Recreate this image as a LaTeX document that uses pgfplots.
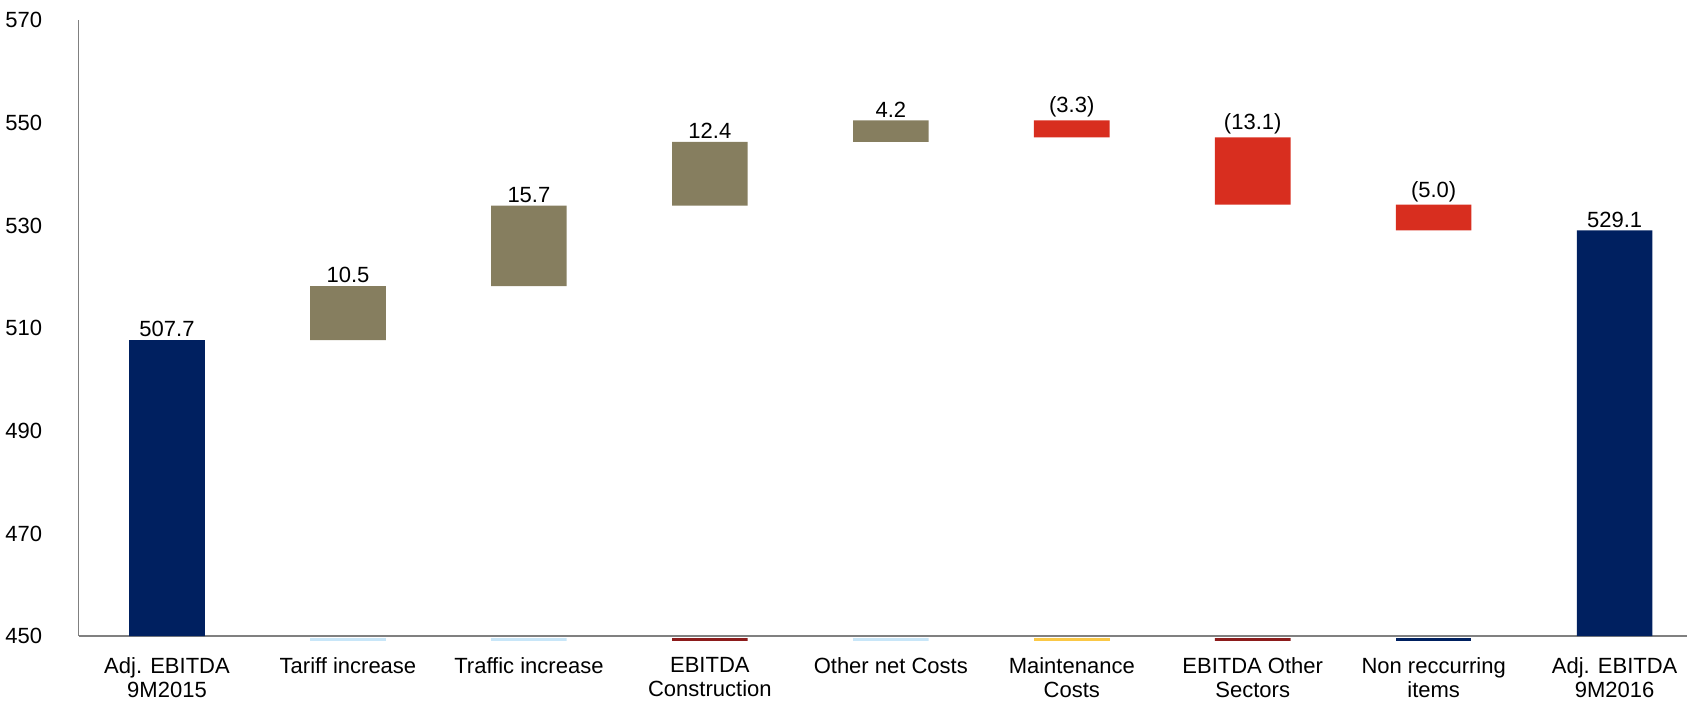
\documentclass[border=0pt]{standalone}
\usepackage{fontspec}
\setmainfont{Liberation Sans}
\usepackage{pgfplots}
\pgfplotsset{compat=1.18}
\definecolor{navyb}{RGB}{0,32,96}
\definecolor{oliveb}{RGB}{134,126,95}
\definecolor{redb}{RGB}{216,46,31}
\definecolor{lblue}{RGB}{200,230,248}
\definecolor{dred}{RGB}{140,28,28}
\definecolor{yel}{RGB}{250,200,70}
\definecolor{axgray}{RGB}{128,128,128}
\pgfplotsset{common/.style={
  scale only axis, width=804pt, height=307.8pt,
  xmin=-0.489, xmax=8.40, ymin=450, ymax=570,
}}
\begin{document}
\begin{tikzpicture}
\begin{axis}[
  common,
  ytick={450,470,...,570},
  xtick={0,...,8},
  xticklabels={{Adj. EBITDA\\9M2015},{Tariff increase},{Traffic increase},{EBITDA\\Construction},{Other net Costs},{Maintenance\\Costs},{EBITDA Other\\Sectors},{Non reccurring\\items},{Adj. EBITDA\\9M2016}},
  x tick label style={align=center, font=\fontsize{11}{12}\selectfont, inner sep=0pt, yshift=-10.3pt},
  y tick label style={font=\fontsize{11}{12}\selectfont, inner xsep=2.7pt, inner ysep=6.3pt, xshift=-15.3pt},
  /pgf/number format/assume math mode=true,
  axis x line=bottom, axis y line=left,
  axis line style={axgray, line width=0.8pt, -},
  major tick length=0pt,
  ybar stacked, bar width=37.8pt,
  clip=false,
  after end axis/.code={\path (rel axis cs:1,0) ++(3pt,-32pt);},
]
% invisible below strips
\addplot[draw=none, fill=none, forget plot] coordinates {(0,450) (1,449.1) (2,449.1) (3,449.1) (4,449.1) (5,449.1) (6,449.1) (7,449.1) (8,450)};
% strips
\addplot[draw=none, fill=lblue, forget plot] coordinates {(0,0) (1,0.5) (2,0.5) (3,0) (4,0.5) (5,0) (6,0) (7,0) (8,0)};
\addplot[draw=none, fill=dred, forget plot] coordinates {(0,0) (1,0) (2,0) (3,0.5) (4,0) (5,0) (6,0.5) (7,0) (8,0)};
\addplot[draw=none, fill=yel, forget plot] coordinates {(0,0) (1,0) (2,0) (3,0) (4,0) (5,0.5) (6,0) (7,0) (8,0)};
\addplot[draw=none, fill=navyb, forget plot] coordinates {(0,0) (1,0) (2,0) (3,0) (4,0) (5,0) (6,0) (7,0.5) (8,0)};
% invisible base up to lower end of floating bars
\addplot[draw=none, fill=none, forget plot] coordinates {(0,0) (1,58.1) (2,68.6) (3,84.3) (4,96.7) (5,97.6) (6,84.5) (7,79.5) (8,0)};
% totals (from 450)
\addplot[draw=none, fill=navyb] coordinates {(0,57.7) (1,0) (2,0) (3,0) (4,0) (5,0) (6,0) (7,0) (8,79.1)};
% increases
\addplot[draw=none, fill=oliveb] coordinates {(0,0) (1,10.5) (2,15.7) (3,12.4) (4,4.2) (5,0) (6,0) (7,0) (8,0)};
% decreases
\addplot[draw=none, fill=redb] coordinates {(0,0) (1,0) (2,0) (3,0) (4,0) (5,3.3) (6,13.1) (7,5.0) (8,0)};
\end{axis}
\begin{axis}[
  common, hide axis, clip=false,
  nodes near coords, point meta=explicit symbolic,
  every node near coord/.append style={font=\fontsize{11}{12}\selectfont, inner sep=1.3pt, text=black, anchor=south},
]
\addplot[only marks, mark=none] coordinates {(0,507.7) [507.7] (1,518.2) [10.5] (2,533.9) [15.7] (3,546.3) [12.4] (4,550.5) [4.2] (5,550.5) [(3.3)] (6,547.2) [(13.1)] (7,534.1) [(5.0)] (8,529.1) [529.1]};
\end{axis}
\end{tikzpicture}
\end{document}
